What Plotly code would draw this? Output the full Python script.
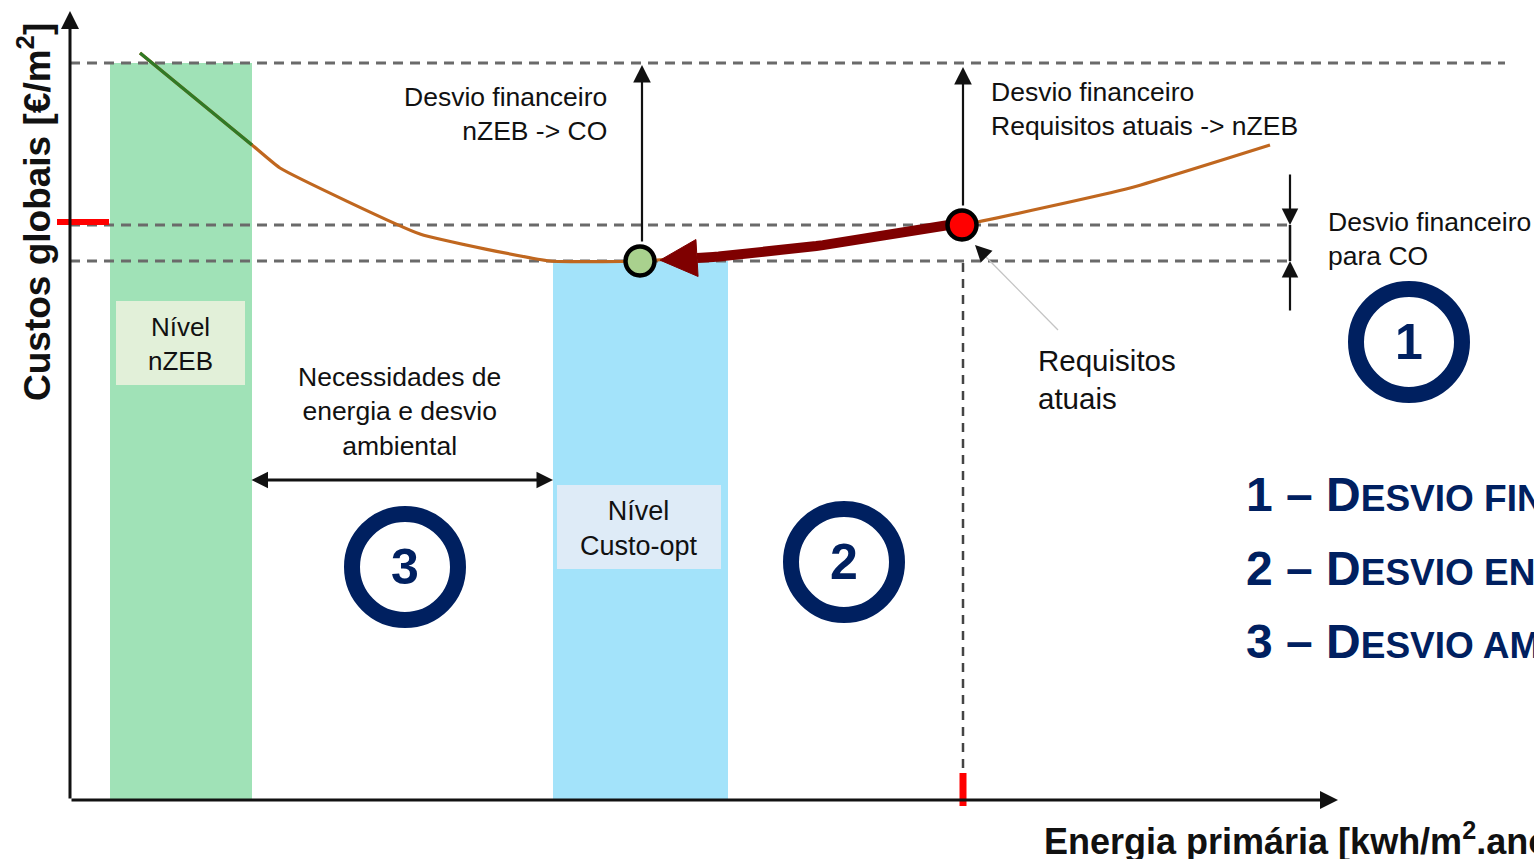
import numpy as np
import plotly.graph_objects as go

# Global cost curve: primary energy vs. global cost (arbitrary units)
energia = [7, 18.2, 21, 35, 48, 57, 69, 89.2, 106, 120]
custo = [74.7, 65.5, 63.2, 56.6, 53.9, 53.9, 54.8, 57.5, 61.2, 65.5]

# Cost levels
nivel_nzeb = 73.7      # nZEB cost level
nivel_atual = 57.5     # cost of the current requirements
nivel_co = 53.9        # cost-optimal level

# Positions on the energy axis
faixa_nzeb = (4.0, 18.2)
faixa_co = (48.3, 65.8)
energia_co = 57.0
energia_atual = 89.2

legenda = [
    ("1", "D", "ESVIO FINANCEIRO"),
    ("2", "D", "ESVIO ENERGÉTICO"),
    ("3", "D", "ESVIO AMBIENTAL"),
]

X_RANGE = [-7, 146.4]
Y_RANGE = [-5.9, 80]

FONT = "Liberation Sans, Arial, sans-serif"
NAVY = "#002060"
DASH = "10px,7px"
TXT = "#111111"

fig = go.Figure()

# ---- cost curve -------------------------------------------------------
fig.add_trace(go.Scatter(
    x=energia, y=custo, mode="lines",
    line=dict(color="#c0671f", width=3.2, shape="spline", smoothing=0.4),
    hoverinfo="skip", showlegend=False))

# portion of the curve inside the nZEB band
in_band = [i for i, e in enumerate(energia) if faixa_nzeb[0] <= e <= faixa_nzeb[1]]
fig.add_trace(go.Scatter(
    x=[energia[i] for i in in_band], y=[custo[i] for i in in_band], mode="lines",
    line=dict(color="#2f7a26", width=3.2),
    hoverinfo="skip", showlegend=False))

# ---- curved arrow: current requirements -> cost optimum -------------------
p0 = np.array([energia_atual - 0.7, nivel_atual + 0.1])
ctrl = np.array([73.0, nivel_co + 0.9])
p2 = np.array([62.7, nivel_co + 0.3])
t = np.linspace(0, 1, 40)[:, None]
body = (1 - t) ** 2 * p0 + 2 * (1 - t) * t * ctrl + t ** 2 * p2
fig.add_trace(go.Scatter(
    x=body[:, 0], y=body[:, 1], mode="lines",
    line=dict(color="#7f0000", width=10),
    hoverinfo="skip", showlegend=False))

d = p2 - ctrl
d = d / np.linalg.norm(d)
n = np.array([-d[1], d[0]])
tip = p2 + d * 3.7
head = np.array([tip, p2 + n * 1.85, p2 - n * 1.85, tip])
fig.add_trace(go.Scatter(
    x=head[:, 0], y=head[:, 1], mode="lines", fill="toself",
    fillcolor="#7f0000", line=dict(color="#7f0000", width=1),
    hoverinfo="skip", showlegend=False))

# ---- level markers ----------------------------------------------------
fig.add_trace(go.Scatter(
    x=[energia_co, energia_atual], y=[nivel_co, nivel_atual], mode="markers",
    marker=dict(size=29, color=["#a9d18e", "#ff0000"],
                line=dict(color="#000000", width=4.5)),
    hoverinfo="skip", showlegend=False))

# ---- shapes -----------------------------------------------------------
shapes = [
    # nZEB band and cost-optimal band
    dict(type="rect", x0=faixa_nzeb[0], x1=faixa_nzeb[1], y0=0, y1=nivel_nzeb,
         fillcolor="#a0e2b7", line_width=0, layer="below"),
    dict(type="rect", x0=faixa_co[0], x1=faixa_co[1], y0=0, y1=nivel_co,
         fillcolor="#a3e3fa", line_width=0, layer="below"),
    # label boxes
    dict(type="rect", x0=4.6, x1=17.5, y0=41.5, y1=49.9,
         fillcolor="#e2f0d9", line_width=0, layer="below"),
    dict(type="rect", x0=48.7, x1=65.1, y0=23.1, y1=31.5,
         fillcolor="#deebf7", line_width=0, layer="below"),
    # dashed reference levels
    dict(type="line", x0=0, x1=143.5, y0=nivel_nzeb, y1=nivel_nzeb,
         line=dict(color="#6a6a6a", width=3, dash=DASH), layer="below"),
    dict(type="line", x0=0, x1=122, y0=nivel_atual, y1=nivel_atual,
         line=dict(color="#6a6a6a", width=3, dash=DASH), layer="below"),
    dict(type="line", x0=0, x1=122, y0=nivel_co, y1=nivel_co,
         line=dict(color="#6a6a6a", width=3, dash=DASH), layer="below"),
    dict(type="line", x0=energia_atual + 0.1, x1=energia_atual + 0.1, y0=0, y1=nivel_co + 0.4,
         line=dict(color="#444444", width=2.5, dash="9px,7px"), layer="below"),
    # financial gap to CO bar
    dict(type="line", x0=122, x1=122, y0=nivel_co, y1=nivel_atual,
         line=dict(color="#111111", width=2.5), layer="above"),
    # pointer line for "Requisitos atuais"
    dict(type="line", x0=98.8, x1=91.6, y0=47.0, y1=54.3,
         line=dict(color="#c4c4c4", width=1.3), layer="above"),
    # red marks on the axes
    dict(type="line", x0=-1.3, x1=3.9, y0=nivel_atual + 0.3, y1=nivel_atual + 0.3,
         line=dict(color="#ff0000", width=6), layer="above"),
    dict(type="line", x0=energia_atual + 0.1, x1=energia_atual + 0.1, y0=-0.6, y1=2.7,
         line=dict(color="#ff0000", width=7), layer="above"),
]

# numbered rings
rings = [("3", 33.5, 23.3), ("2", 77.4, 23.8), ("1", 133.9, 45.8)]
R = 5.3
for _, cx, cy in rings:
    shapes.append(dict(type="circle", x0=cx - R, x1=cx + R, y0=cy - R, y1=cy + R,
                       line=dict(color=NAVY, width=16), fillcolor="rgba(0,0,0,0)",
                       layer="above"))

# ---- annotations ------------------------------------------------------
ann = []


def arrow(x, y, ax, ay, width=2.5, size=1.3, head=2, side="end", color="#111111"):
    ann.append(dict(x=x, y=y, ax=ax, ay=ay, xref="x", yref="y", axref="x", ayref="y",
                    text="", showarrow=True, arrowhead=head, arrowsize=size,
                    arrowwidth=width, arrowcolor=color, arrowside=side,
                    standoff=0, startstandoff=0))


def label(text, x, y, size=24, xanchor="center", color=TXT, weight="normal", angle=0):
    ann.append(dict(x=x, y=y, xref="x", yref="y", text=text, showarrow=False,
                    xanchor=xanchor, yanchor="middle", textangle=angle,
                    align=xanchor,
                    font=dict(family=FONT, size=size, color=color, weight=weight)))


# axes
arrow(0, 78.9, 0, 0, width=3, size=1.2)
arrow(126.8, 0, 0, 0, width=3, size=1.2)

# financial gap arrows
arrow(energia_co + 0.2, nivel_nzeb - 0.2, energia_co + 0.2, nivel_co + 1.8, width=2.2, size=1.6)
arrow(energia_atual + 0.1, nivel_nzeb - 0.4, energia_atual + 0.1, nivel_atual + 1.8, width=2.2, size=1.6)
arrow(122, nivel_atual, 122, 62.7, width=2.2, size=1.5)
arrow(122, nivel_co, 122, 48.8, width=2.2, size=1.5)

# energy / environmental gap arrow
arrow(faixa_co[0], 32.0, faixa_nzeb[1] - 0.2, 32.0, width=3, size=1.1, side="end+start")

# pointer head for current requirements
arrow(90.5, 55.5, 91.7, 54.3, width=1.5, size=2.2)

# text labels
label("Desvio financeiro<br>nZEB -> CO", 53.9, 68.6, size=26.5, xanchor="right")
label("Desvio financeiro<br>Requisitos atuais -> nZEB", 91.9, 69.1, size=26.5, xanchor="left")
label("Desvio financeiro<br>para CO", 125.6, 56.1, size=26.5, xanchor="left")
label("Requisitos<br>atuais", 96.6, 42.1, size=29.5, xanchor="left")
label("Necessidades de<br>energia e desvio<br>ambiental", 32.9, 38.9, size=26.5)
label("Nível<br>nZEB", 11.0, 45.6, size=26)
label("Nível<br>Custo-opt", 56.9, 27.2, size=27)

# ring numbers
for num, cx, cy in rings:
    label(num, cx, cy, size=50, color=NAVY, weight="bold")

# legend of the gaps
for (num, cap, rest), ly in zip(legenda, [30.6, 23.2, 15.9]):
    label(f"{num} – {cap}<span style='font-size:37px'>{rest}</span>", 117.4, ly,
          size=48, xanchor="left", color=NAVY, weight="bold")

# axis titles
label("Custos globais [€/m<sup>2</sup>]", -3.6, 58.8, size=37, weight="bold", angle=-90)
label("Energia primária [kwh/m<sup>2</sup>.ano]", 97.2, -3.9, size=36,
      xanchor="left", weight="bold")

fig.update_layout(
    width=1534, height=859,
    margin=dict(l=0, r=0, t=0, b=0),
    paper_bgcolor="#ffffff", plot_bgcolor="#ffffff",
    xaxis=dict(range=X_RANGE, visible=False, fixedrange=True),
    yaxis=dict(range=Y_RANGE, visible=False, fixedrange=True),
    shapes=shapes, annotations=ann,
    showlegend=False,
    font=dict(family=FONT),
)

fig.write_html("out.html", config={"displayModeBar": False})
